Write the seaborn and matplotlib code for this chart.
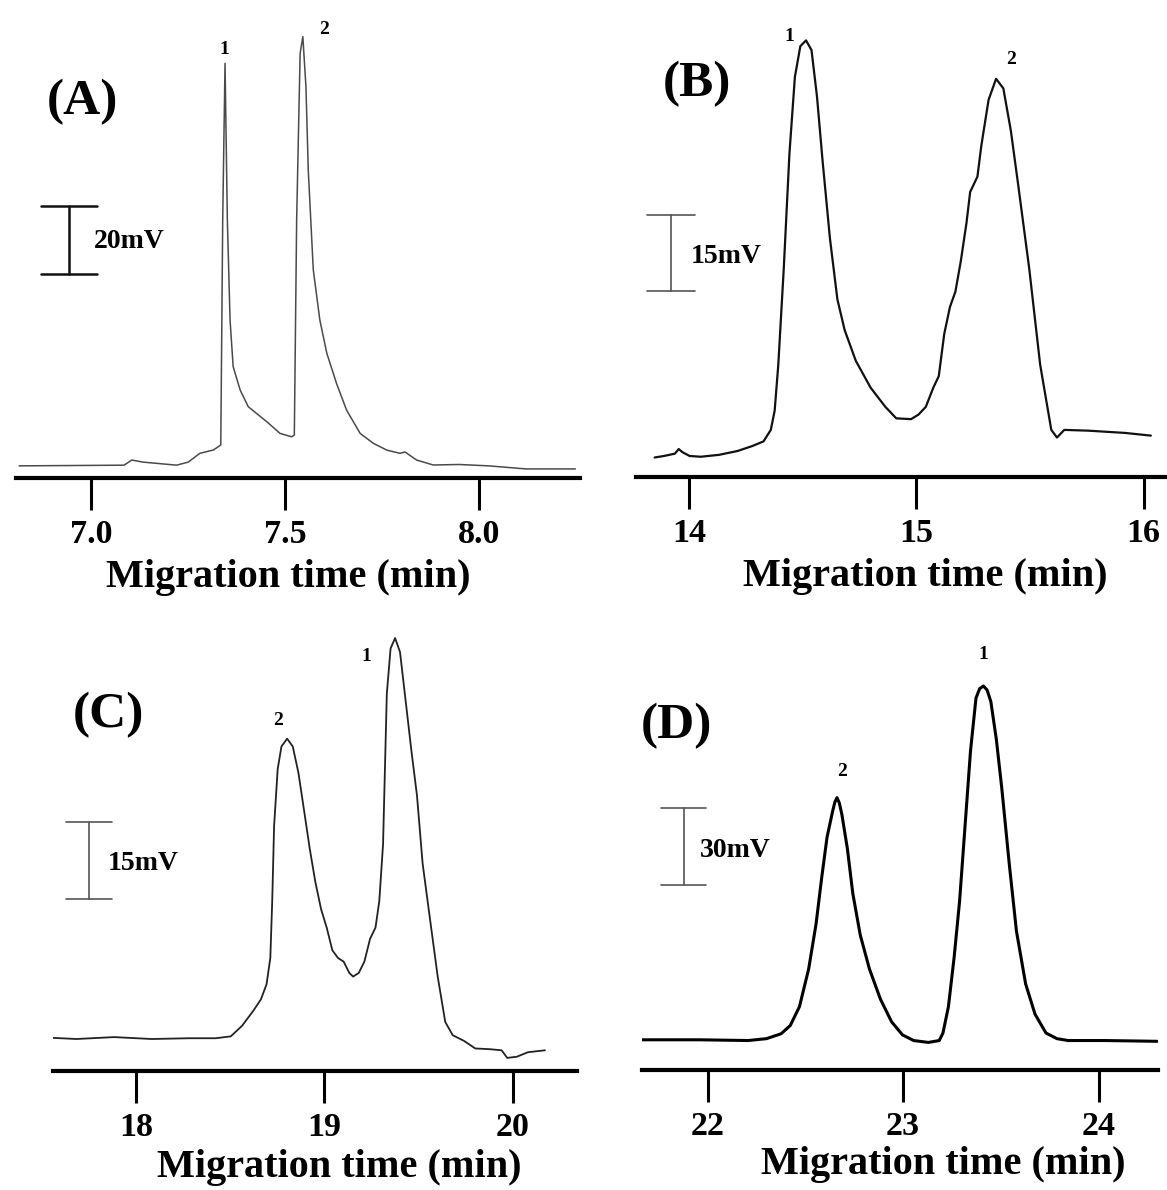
import matplotlib
matplotlib.use("Agg")
import matplotlib.pyplot as plt
import pandas as pd
import seaborn as sns

# ---------------- data (migration time in min, detector signal in mV) ----------------
time_A = [6.813, 7.084, 7.104, 7.133, 7.220, 7.250, 7.280, 7.315, 7.334, 7.339, 7.345,
          7.351, 7.358, 7.366, 7.384, 7.405, 7.431, 7.453, 7.487, 7.517, 7.524, 7.530,
          7.539, 7.546, 7.554, 7.560, 7.573, 7.590, 7.608, 7.633, 7.659, 7.694, 7.728,
          7.763, 7.797, 7.810, 7.840, 7.883, 7.950, 8.026, 8.123, 8.250]
signal_A = [0.2, 0.4, 1.9, 1.3, 0.4, 1.3, 3.87, 4.84, 6.3, 72.1, 117.9,
            72.1, 42.8, 29.2, 22.4, 17.5, 15.1, 13.1, 9.7, 8.7, 9.2, 72.1,
            120.8, 125.7, 111.1, 86.7, 57.5, 42.8, 33.1, 24.3, 16.5, 9.7, 6.8,
            4.8, 3.87, 4.25, 1.9, 0.45, 0.6, 0.2, -0.7, -0.7]

time_B = [13.849, 13.890, 13.938, 13.955, 13.971, 14.003, 14.052, 14.133, 14.214, 14.279,
          14.328, 14.360, 14.377, 14.393, 14.417, 14.442, 14.466, 14.490, 14.515, 14.539,
          14.563, 14.588, 14.620, 14.653, 14.685, 14.734, 14.799, 14.864, 14.912, 14.977,
          15.010, 15.042, 15.075, 15.099, 15.123, 15.148, 15.172, 15.196, 15.221, 15.237,
          15.269, 15.286, 15.318, 15.351, 15.383, 15.416, 15.448, 15.497, 15.545, 15.594,
          15.619, 15.651, 15.756, 15.919, 16.032]
signal_B = [-0.15, 0.15, 0.61, 1.52, 0.91, 0.15, 0.0, 0.38, 1.14, 2.12,
            3.03, 5.30, 9.09, 18.18, 37.12, 59.85, 75.0, 81.06, 82.2, 80.3,
            71.21, 58.33, 43.18, 31.06, 25.0, 18.94, 13.64, 9.85, 7.58, 7.42,
            8.33, 9.85, 13.64, 15.91, 24.24, 29.55, 32.58, 38.64, 46.21, 52.27,
            55.30, 61.36, 70.45, 74.62, 72.73, 64.39, 53.79, 37.12, 18.18, 5.30,
            3.79, 5.30, 5.15, 4.70, 4.17]

time_C = [17.56, 17.685, 17.884, 18.084, 18.283, 18.423, 18.503, 18.563, 18.623, 18.663,
          18.693, 18.713, 18.723, 18.733, 18.752, 18.772, 18.802, 18.832, 18.862, 18.892,
          18.922, 18.952, 18.982, 19.012, 19.042, 19.072, 19.102, 19.132, 19.152, 19.182,
          19.212, 19.242, 19.271, 19.291, 19.311, 19.321, 19.331, 19.351, 19.375, 19.401,
          19.431, 19.461, 19.491, 19.521, 19.561, 19.601, 19.641, 19.681, 19.741, 19.800,
          19.880, 19.940, 19.970, 20.020, 20.080, 20.170]
signal_C = [0.22, 0.0, 0.37, 0.0, 0.15, 0.15, 0.51, 2.56, 5.49, 7.68,
            10.61, 15.73, 26.7, 41.3, 52.3, 56.7, 58.2, 56.7, 51.6, 44.3,
            36.9, 30.4, 25.2, 21.6, 17.2, 15.7, 15.0, 12.8, 12.1, 12.8,
            15.0, 19.4, 21.6, 26.7, 37.7, 52.3, 66.9, 75.7, 77.7, 75.0,
            65.5, 56.0, 47.2, 34.0, 23.0, 12.1, 3.3, 0.73, -0.37, -1.83,
            -1.98, -2.19, -3.66, -3.44, -2.56, -2.19]

time_D = [21.662, 21.962, 22.207, 22.301, 22.376, 22.423, 22.470, 22.517, 22.555, 22.583,
          22.611, 22.640, 22.651, 22.662, 22.674, 22.687, 22.715, 22.743, 22.781, 22.828,
          22.884, 22.941, 22.997, 23.054, 23.129, 23.185, 23.204, 23.232, 23.261, 23.289,
          23.317, 23.345, 23.373, 23.392, 23.411, 23.430, 23.449, 23.477, 23.505, 23.543,
          23.580, 23.627, 23.675, 23.731, 23.787, 23.844, 24.032, 24.300]
signal_D = [0.0, 0.0, -0.29, 0.44, 2.35, 5.59, 12.94, 27.65, 45.3, 62.9,
            79.1, 89.4, 92.8, 94.6, 92.5, 88.0, 74.7, 57.1, 40.9, 27.65,
            15.9, 7.06, 1.91, -0.29, -1.03, -0.29, 2.65, 12.94, 32.1, 54.1,
            83.5, 112.9, 133.5, 137.2, 138.2, 136.6, 132.1, 117.4, 98.2, 68.8,
            42.4, 21.8, 10.0, 2.65, 0.44, -0.29, -0.29, -0.59]

panel_letters = ["(A)", "(B)", "(C)", "(D)"]
scale_mV = [20, 15, 15, 30]
ticks_A = [7.0, 7.5, 8.0]
ticks_B = [14, 15, 16]
ticks_C = [18, 19, 20]
ticks_D = [22, 23, 24]
tick_labels_A = ["7.0", "7.5", "8.0"]
tick_labels_B = ["14", "15", "16"]
tick_labels_C = ["18", "19", "20"]
tick_labels_D = ["22", "23", "24"]
peak_names = ["1", "2"]
xlabel_text = "Migration time (min)"

# ---------------- style / layout ----------------
sns.set_theme(style="white")
plt.rcParams["font.family"] = ["Liberation Serif", "DejaVu Serif"]
plt.rcParams["font.weight"] = "bold"
plt.rcParams["text.color"] = "black"
plt.rcParams["xtick.color"] = "black"
plt.rcParams["axes.labelcolor"] = "black"

W, H = 1167, 1190
fig = plt.figure(figsize=(W / 100, H / 100), dpi=100)

panels = [
    dict(t=time_A, s=signal_A, ticks=ticks_A, labels=tick_labels_A,
         box=(16, 580, 478, 0), xlim=(6.805, 8.262), y_axis=-3.35, ppm=3.42,
         lw=1.1, color="#4a4a4a",
         bar=(6.942, 56.3, 0.073, 1.8, "#111111"), bar_text=(7.007, 65.9),
         letter=(82, 102), xlab=(288, 587),
         peaks=[(7.344, 121.8), (7.601, 127.9)]),
    dict(t=time_B, s=signal_B, ticks=ticks_B, labels=tick_labels_B,
         box=(636, 1167, 477, 0), xlim=(13.767, 16.103), y_axis=-4.0, ppm=5.065,
         lw=1.6, color="#111111",
         bar=(13.919, 32.7, 0.1055, 1.2, "#555555"), bar_text=(14.006, 39.5),
         letter=(697, 84), xlab=(925, 586),
         peaks=[(14.442, 83.0), (15.416, 78.4)]),
    dict(t=time_C, s=signal_C, ticks=ticks_C, labels=tick_labels_C,
         box=(53, 577, 1071, 600), xlim=(17.56, 20.34), y_axis=-6.2, ppm=5.16,
         lw=1.3, color="#222222",
         bar=(17.75, 27.1, 0.122, 1.2, "#555555"), bar_text=(17.85, 34.0),
         letter=(108, 715), xlab=(339, 1177),
         peaks=[(19.222, 74.2), (18.752, 61.8)]),
    dict(t=time_D, s=signal_D, ticks=ticks_D, labels=tick_labels_D,
         box=(641.5, 1158, 1070, 600), xlim=(21.662, 24.304), y_axis=-11.8, ppm=2.56,
         lw=2.2, color="#000000",
         bar=(21.878, 60.4, 0.115, 1.2, "#555555"), bar_text=(21.962, 74.0),
         letter=(676, 726), xlab=(943, 1174),
         peaks=[(23.411, 150.4), (22.687, 104.9)]),
]

for p, letter, smv in zip(panels, panel_letters, scale_mV):
    l, r, yax, top = p["box"]
    ax = fig.add_axes([l / W, 1 - yax / H, (r - l) / W, (yax - top) / H])
    df = pd.DataFrame({"time": p["t"], "signal": p["s"]})
    sns.lineplot(data=df, x="time", y="signal", ax=ax, sort=False, estimator=None,
                 color=p["color"], linewidth=p["lw"])
    ax.set_xlim(*p["xlim"])
    ax.set_ylim(p["y_axis"], p["y_axis"] + (yax - top) / p["ppm"])
    ax.set_xticks(p["ticks"])
    ax.set_xticklabels(p["labels"], fontsize=24.5, fontweight="bold", color="black")
    ax.set_yticks([])
    ax.set_xlabel("")
    ax.set_ylabel("")
    for side in ["top", "left", "right"]:
        ax.spines[side].set_visible(False)
    ax.spines["bottom"].set_linewidth(3.0)
    ax.spines["bottom"].set_color("black")
    ax.tick_params(axis="x", direction="out", length=23, width=2.2, pad=6.5,
                   colors="black", bottom=True)
    ax.patch.set_alpha(0)

    # scale bar
    bx, by, hw, blw, bcol = p["bar"]
    ax.plot([bx, bx], [by, by + smv], color=bcol, lw=blw, clip_on=False)
    ax.plot([bx - hw, bx + hw], [by, by], color=bcol, lw=blw, clip_on=False)
    ax.plot([bx - hw, bx + hw], [by + smv, by + smv], color=bcol, lw=blw, clip_on=False)
    ax.text(p["bar_text"][0], p["bar_text"][1], f"{smv}mV", fontsize=20,
            fontweight="bold", ha="left", va="center", color="black")

    # peak labels
    for name, (px, py) in zip(peak_names, p["peaks"]):
        ax.text(px, py, name, fontsize=14, fontweight="bold", ha="center",
                va="center", clip_on=False, color="black")

    fig.text(p["letter"][0] / W, 1 - p["letter"][1] / H, letter, fontsize=37,
             fontweight="bold", ha="center", va="center", color="black")
    fig.text(p["xlab"][0] / W, 1 - p["xlab"][1] / H, xlabel_text, fontsize=29,
             fontweight="bold", ha="center", va="baseline", color="black")

fig.savefig("out.png", dpi=100, facecolor="white")
